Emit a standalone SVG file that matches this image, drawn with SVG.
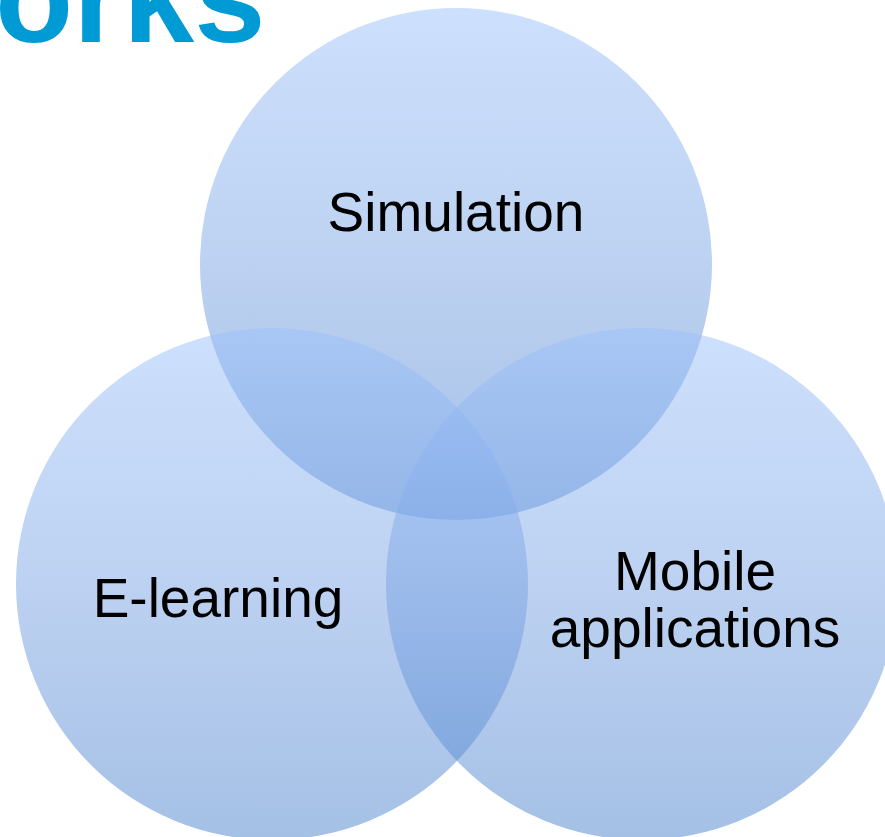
<svg xmlns="http://www.w3.org/2000/svg" width="885" height="837" viewBox="0 0 885 837">
  <style>
    .lbl { font-family: "Liberation Sans", Arial, sans-serif; font-size: 55px; fill: #000; text-anchor: middle; }
    .title { font-family: "Liberation Sans", Arial, sans-serif; font-size: 128px; font-weight: bold; fill: #009ad5; }
    .c { fill-opacity: 0.5; }
  </style>
  <defs>
    <linearGradient id="g" x1="0" y1="0" x2="0" y2="1">
      <stop offset="0" stop-color="#9bc1fb"/>
      <stop offset="0.5" stop-color="#7ba4e4"/>
      <stop offset="1" stop-color="#4a82cc"/>
    </linearGradient>
  </defs>
  <rect width="885" height="837" fill="#fff"/>
  <text class="title" x="-5" y="42">orks</text>
  <g id="simulation">
    <circle class="c" cx="456" cy="264" r="256" fill="url(#g)"/>
  </g>
  <g id="elearning">
    <circle class="c" cx="272" cy="584" r="256" fill="url(#g)"/>
  </g>
  <g id="mobile">
    <circle class="c" cx="642" cy="584" r="256" fill="url(#g)"/>
  </g>
  <g id="labels">
    <text class="lbl" x="456" y="231">Simulation</text>
    <text class="lbl" x="218" y="617">E-learning</text>
    <text class="lbl" x="695" y="590">Mobile</text>
    <text class="lbl" x="695" y="647">applications</text>
  </g>
  <g id="connectors"/>
</svg>
